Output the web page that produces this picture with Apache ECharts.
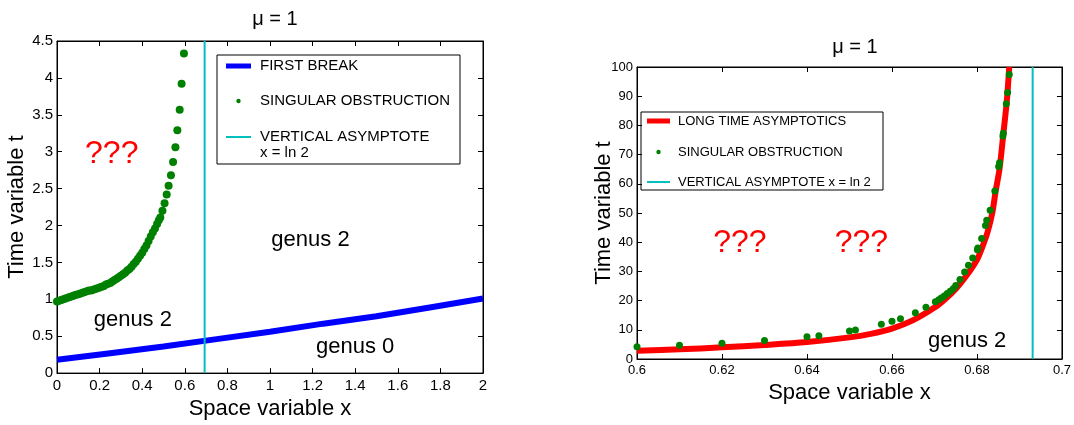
<!DOCTYPE html>
<html>
<head>
<meta charset="utf-8">
<script src="https://cdn.jsdelivr.net/npm/echarts@6/dist/echarts.min.js"></script>
<style>html,body{margin:0;padding:0;background:#fff;}#c{width:1074px;height:425px;}</style>
</head>
<body>
<div id="c"></div>
<script>
// ---------- DATA ----------
// Left panel: singular obstruction (green dots)
const leftDotX = [0,0.01,0.02,0.03,0.04,0.05,0.06,0.07,0.08,0.09,0.10,0.11,0.12,0.13,0.14,0.15,0.16,0.17,0.18,0.19,0.20,0.21,0.22,0.23,0.24,0.25,0.26,0.27,0.28,0.29,0.30,0.31,0.32,0.33,0.34,0.35,0.36,0.37,0.38,0.39,0.40,0.41,0.42,0.43,0.44,0.45,0.46,0.47,0.478,0.485,0.495,0.505,0.515,0.524,0.535,0.545,0.556,0.565,0.576,0.585,0.596];
const leftDotT = [0.97,0.98,0.99,1.00,1.01,1.02,1.03,1.04,1.05,1.06,1.07,1.08,1.09,1.10,1.11,1.12,1.12,1.13,1.14,1.15,1.16,1.17,1.18,1.20,1.21,1.22,1.24,1.26,1.28,1.30,1.32,1.34,1.36,1.39,1.41,1.44,1.48,1.51,1.55,1.59,1.63,1.68,1.73,1.79,1.85,1.91,1.96,2.02,2.07,2.11,2.20,2.30,2.42,2.54,2.68,2.86,3.06,3.29,3.57,3.92,4.33];
// Left panel: first break (blue line)
const breakX = [0,0.25,0.5,0.75,1.0,1.25,1.5,1.75,2.0];
const breakT = [0.18,0.27,0.36,0.46,0.56,0.67,0.77,0.89,1.01];
// Vertical asymptote x = ln 2
const asymptoteX = 0.6931;
// Right panel: long time asymptotics (red line)
const asymX = [0.600,0.610,0.620,0.630,0.640,0.650,0.655,0.660,0.665,0.670,0.6725,0.675,0.6775,0.680,0.6813,0.6825,0.6836,0.6844,0.6853,0.6862,0.6870,0.6876];
const asymT = [2.8,3.3,4.0,4.8,5.8,7.4,8.6,10.4,13.3,17.6,20.5,24.0,28.5,34.0,38.5,43.5,50.0,57.5,65.0,77.0,88.0,100.0];
// Right panel: singular obstruction (green dots)
const rightDotX = [0.600,0.610,0.620,0.630,0.640,0.6428,0.650,0.6514,0.6575,0.660,0.662,0.6655,0.668,0.6702,0.671,0.6716,0.6723,0.673,0.6737,0.6744,0.675,0.676,0.6771,0.678,0.679,0.6801,0.6802,0.6811,0.682,0.6823,0.6831,0.6842,0.6851,0.6853,0.6861,0.6862,0.6869,0.6872,0.6876];
const rightDotT = [4.2,4.7,5.4,6.3,7.6,8.0,9.6,9.9,11.9,12.9,13.8,15.8,17.7,19.6,20.3,20.9,21.6,22.4,23.2,24.1,25.2,27.2,29.8,32.1,34.6,37.4,38.0,41.3,45.7,47.5,50.9,57.5,65.9,67.2,76.4,77.3,87.4,91.3,97.4];
// Text annotations [x, t, text]
const leftNotes = [[0.257,2.96,'???'],[1.19,1.81,'genus 2'],[0.356,0.72,'genus 2'],[1.40,0.36,'genus 0']];
const rightNotes = [[0.6242,39.7,'???'],[0.6528,39.7,'???'],[0.6777,6.2,'genus 2']];
// Axis ranges
const leftXRange = [0, 2, 0.2], leftTRange = [0, 4.5, 0.5];
const rightXRange = [0.6, 0.7, 0.02], rightTRange = [0, 100, 10];

// ---------- CHART ----------
const FONT = 'Liberation Sans, Arial, Helvetica, sans-serif';
const zip = (a, b) => a.map((v, i) => [v, b[i]]);
const chart = echarts.init(document.getElementById('c'), null, {renderer: 'canvas'});

function xAxes(grid, r, fs, fmt, nameGap) {
  const base = {gridIndex: grid, type: 'value', min: r[0], max: r[1], interval: r[2],
    axisLine: {show: true, onZero: false, lineStyle: {color: '#000', width: 1}},
    axisTick: {show: true, inside: true, length: 5, lineStyle: {color: '#000'}},
    splitLine: {show: false}};
  return [
    Object.assign({}, base, {position: 'bottom', name: 'Space variable x', nameLocation: 'middle', nameGap: nameGap,
      nameTextStyle: {fontSize: 22, fontFamily: FONT, color: '#000'},
      axisLabel: {fontSize: fs, fontFamily: FONT, color: '#000', margin: 5, formatter: fmt, showMinLabel: true, showMaxLabel: true}}),
    Object.assign({}, base, {position: 'top', axisLabel: {show: false}})
  ];
}
function yAxes(grid, r, fs, nameGap) {
  const base = {gridIndex: grid, type: 'value', min: r[0], max: r[1], interval: r[2],
    axisLine: {show: true, onZero: false, lineStyle: {color: '#000', width: 1}},
    axisTick: {show: true, inside: true, length: 5, lineStyle: {color: '#000'}},
    splitLine: {show: false}};
  return [
    Object.assign({}, base, {position: 'left', name: 'Time variable t', nameLocation: 'middle', nameGap: nameGap,
      nameMoveOverlap: false,
      nameTextStyle: {fontSize: 22, fontFamily: FONT, color: '#000'},
      axisLabel: {fontSize: fs, fontFamily: FONT, color: '#000', margin: 4, showMinLabel: true, showMaxLabel: true}}),
    Object.assign({}, base, {position: 'right', axisLabel: {show: false}})
  ];
}
function noteSeries(xi, yi, notes) {
  return {type: 'scatter', xAxisIndex: xi, yAxisIndex: yi, silent: true, symbolSize: 1,
    itemStyle: {color: 'rgba(0,0,0,0)', opacity: 1},
    data: notes.map(n => ({value: [n[0], n[1]], label: {
      show: true, position: 'inside', formatter: n[2], fontFamily: FONT,
      fontSize: n[2] === '???' ? 32 : 22, color: n[2] === '???' ? '#ff0000' : '#000'}})),
    z: 5};
}
function legendGroup(x, y, w, h, lx0, lx1, tx, fs, items) {
  const children = [{type: 'rect', shape: {x: 0, y: 0, width: w, height: h},
    style: {fill: '#fff', stroke: '#000', lineWidth: 1}}];
  items.forEach(it => {
    if (it.kind === 'line') {
      children.push({type: 'line', shape: {x1: lx0, y1: it.ty, x2: lx1, y2: it.ty},
        style: {stroke: it.color, lineWidth: it.width}});
    } else {
      children.push({type: 'circle', shape: {cx: (lx0 + lx1) / 2, cy: it.ty, r: 2.2},
        style: {fill: it.color}});
    }
    children.push({type: 'text', x: tx, y: it.ty,
      style: {text: it.text, fontSize: fs, fontFamily: FONT, fill: '#000', verticalAlign: 'middle', align: 'left'}});
    if (it.text2) {
      children.push({type: 'text', x: tx, y: it.ty2,
        style: {text: it.text2, fontSize: fs, fontFamily: FONT, fill: '#000', verticalAlign: 'middle', align: 'left'}});
    }
  });
  return {type: 'group', x: x, y: y, z: 100, children: children};
}

const GREEN = '#008000', BLUE = '#0000ff', CYAN = '#00bfbf', RED = '#ff0000';

const option = {
  backgroundColor: '#fff',
  animation: false,
  title: [
    {text: 'μ = 1', left: 270, top: 4, textAlign: 'center', textStyle: {fontSize: 20, fontWeight: 'normal', fontFamily: FONT, color: '#000'}},
    {text: 'μ = 1', left: 850, top: 32, textAlign: 'center', textStyle: {fontSize: 20, fontWeight: 'normal', fontFamily: FONT, color: '#000'}}
  ],
  grid: [
    {left: 57, top: 41, width: 426, height: 336, show: true, borderColor: '#000', borderWidth: 1, backgroundColor: '#fff'},
    {left: 637, top: 67, width: 426, height: 292, show: true, borderColor: '#000', borderWidth: 1, backgroundColor: '#fff'}
  ],
  xAxis: [].concat(
    xAxes(0, leftXRange, 15, v => String(+v.toFixed(1)), 20),
    xAxes(1, rightXRange, 13, v => String(+v.toFixed(2)), 13)
  ),
  yAxis: [].concat(
    yAxes(0, leftTRange, 15, 29),
    yAxes(1, rightTRange, 13, 22)
  ),
  series: [
    {name: 'FIRST BREAK', type: 'line', xAxisIndex: 0, yAxisIndex: 0, showSymbol: false, symbol: 'none',
      lineStyle: {color: BLUE, width: 6}, data: zip(breakX, breakT), z: 3},
    {name: 'SINGULAR OBSTRUCTION', type: 'scatter', xAxisIndex: 0, yAxisIndex: 0, symbolSize: 8,
      itemStyle: {color: GREEN, opacity: 1}, data: zip(leftDotX, leftDotT), z: 4},
    {name: 'VERTICAL ASYMPTOTE', type: 'line', xAxisIndex: 0, yAxisIndex: 0, symbol: 'none',
      lineStyle: {color: CYAN, width: 2}, data: [[asymptoteX, leftTRange[0]], [asymptoteX, leftTRange[1]]], z: 3},
    noteSeries(0, 0, leftNotes),
    {name: 'LONG TIME ASYMPTOTICS', type: 'line', xAxisIndex: 2, yAxisIndex: 2, symbol: 'none', smooth: 0.3,
      lineStyle: {color: RED, width: 6}, data: zip(asymX, asymT), z: 3},
    {name: 'SINGULAR OBSTRUCTION R', type: 'scatter', xAxisIndex: 2, yAxisIndex: 2, symbolSize: 7,
      itemStyle: {color: GREEN, opacity: 1}, data: zip(rightDotX, rightDotT), z: 4},
    {name: 'VERTICAL ASYMPTOTE R', type: 'line', xAxisIndex: 2, yAxisIndex: 2, symbol: 'none',
      lineStyle: {color: CYAN, width: 2}, data: [[asymptoteX, rightTRange[0]], [asymptoteX, rightTRange[1]]], z: 3},
    noteSeries(2, 2, rightNotes)
  ],
  graphic: [
    legendGroup(217, 55, 243, 109, 9, 34, 43, 15, [
      {kind: 'line', color: BLUE, width: 5, ty: 11, text: 'FIRST BREAK'},
      {kind: 'dot', color: GREEN, ty: 46, text: 'SINGULAR OBSTRUCTION'},
      {kind: 'line', color: CYAN, width: 2, ty: 82, text: 'VERTICAL ASYMPTOTE', text2: 'x = ln 2', ty2: 98}
    ]),
    legendGroup(641, 112, 242, 78, 6, 29, 37, 13, [
      {kind: 'line', color: RED, width: 5, ty: 9, text: 'LONG TIME ASYMPTOTICS'},
      {kind: 'dot', color: GREEN, ty: 40, text: 'SINGULAR OBSTRUCTION'},
      {kind: 'line', color: CYAN, width: 2, ty: 70, text: 'VERTICAL ASYMPTOTE x = ln 2'}
    ])
  ]
};
chart.setOption(option);
</script>
</body>
</html>
